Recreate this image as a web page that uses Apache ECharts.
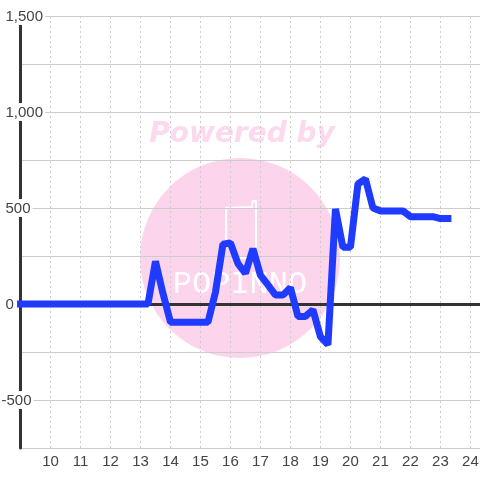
<!DOCTYPE html>
<html>
<head>
<meta charset="utf-8">
<style>
  html, body { margin: 0; padding: 0; background: #fff; }
  #chart { width: 480px; height: 480px; }
</style>
<script src="https://cdn.jsdelivr.net/npm/echarts@6/dist/echarts.min.js"></script>
</head>
<body>
<div id="chart"></div>
<script>
// time of day, one point every 15 minutes
var hours = [
  9, 9.25, 9.5, 9.75, 10, 10.25, 10.5, 10.75, 11, 11.25, 11.5, 11.75,
  12, 12.25, 12.5, 12.75, 13, 13.25, 13.5, 13.75, 14, 14.25, 14.5, 14.75,
  15, 15.25, 15.5, 15.75, 16, 16.25, 16.5, 16.75, 17, 17.25, 17.5, 17.75,
  18, 18.25, 18.5, 18.75, 19, 19.25, 19.5, 19.75, 20, 20.25, 20.5, 20.75,
  21, 21.25, 21.5, 21.75, 22, 22.25, 22.5, 22.75, 23, 23.25
];
var values = [
  0, 0, 0, 0, 0, 0, 0, 0, 0, 0, 0, 0,
  0, 0, 0, 0, 0, 0, 222, 55, -95, -95, -95, -95,
  -95, -95, 62, 312, 318, 210, 160, 288, 150, 100, 47, 47,
  85, -65, -65, -30, -170, -212, 495, 295, 295, 625, 652, 500,
  485, 485, 485, 485, 455, 455, 455, 455, 445, 445
];
var xTickLabels = [10, 11, 12, 13, 14, 15, 16, 17, 18, 19, 20, 21, 22, 23, 24];
var yTickLabels = { '1500': '1,500', '1000': '1,000', '500': '500', '0': '0', '-500': '-500' };

var myChart = echarts.init(document.getElementById('chart'));

var labelBox = { fontFamily: 'Liberation Sans', fontSize: 15, color: '#444', backgroundColor: '#fff', lineHeight: 14 };

myChart.setOption({
  animation: false,
  backgroundColor: '#fff',
  textStyle: { fontFamily: 'Liberation Sans' },
  grid: { left: 20.5, right: 0, top: 16, bottom: 32, outerBoundsMode: 'none' },
  // watermark sits under the grid lines
  graphic: [
    { type: 'circle', z: -10, silent: true, shape: { cx: 240, cy: 258, r: 100 }, style: { fill: '#fcd5ec' } },
    { type: 'text', z: -10, silent: true, x: 242, y: 135, style: {
      text: 'Powered by', align: 'center', verticalAlign: 'middle',
      font: 'italic bold 28px "DejaVu Sans"', fill: '#fcd9ee'
    } },
    { type: 'polyline', z: -9, silent: true, shape: { points: [[226, 245], [226, 208], [252, 207], [253, 201], [256, 201], [256, 258], [236, 258]] },
      style: { stroke: '#fff', fill: null, lineWidth: 2, lineJoin: 'round' } },
    { type: 'text', z: -9, silent: true, x: 240, y: 285, style: {
      text: 'POPINNO', align: 'center', verticalAlign: 'middle',
      font: '32px "Liberation Mono"', fill: '#fff'
    } }
  ],
  xAxis: {
    type: 'value',
    min: 9,
    max: 24.32,
    interval: 1,
    axisLine: { onZero: true, lineStyle: { color: '#333', width: 3 } },
    axisTick: { show: false },
    axisLabel: {
      margin: 6,
      fontSize: 15,
      color: '#444',
      showMinLabel: false,
      showMaxLabel: false,
      formatter: function (v) {
        return xTickLabels.indexOf(v) >= 0 ? String(v) : '';
      }
    },
    splitLine: { show: true, lineStyle: { color: '#ccc', type: [2, 3], width: 1 } }
  },
  yAxis: {
    type: 'value',
    min: -750,
    max: 1500,
    interval: 250,
    axisLine: { show: true, lineStyle: { color: '#333', width: 3 } },
    axisTick: { show: false },
    axisLabel: {
      align: 'left',
      margin: 19,
      formatter: function (v) {
        var t = yTickLabels[String(v)];
        if (!t) return '';
        return v < 0 ? '{neg|' + t + '}' : '{pos|' + t + '}';
      },
      rich: {
        pos: Object.assign({ padding: [2, 2, 1, 4] }, labelBox),
        neg: Object.assign({ padding: [2, 2, 1, 0] }, labelBox)
      }
    },
    splitLine: { show: true, lineStyle: { color: '#ccc', width: 1 } }
  },
  series: [
    {
      type: 'line',
      data: hours.map(function (h, i) { return [h, values[i]]; }),
      showSymbol: false,
      symbol: 'none',
      clip: false,
      lineStyle: { color: '#1f3bff', width: 7, cap: 'square', join: 'bevel' }
    }
  ]
});
</script>
</body>
</html>
